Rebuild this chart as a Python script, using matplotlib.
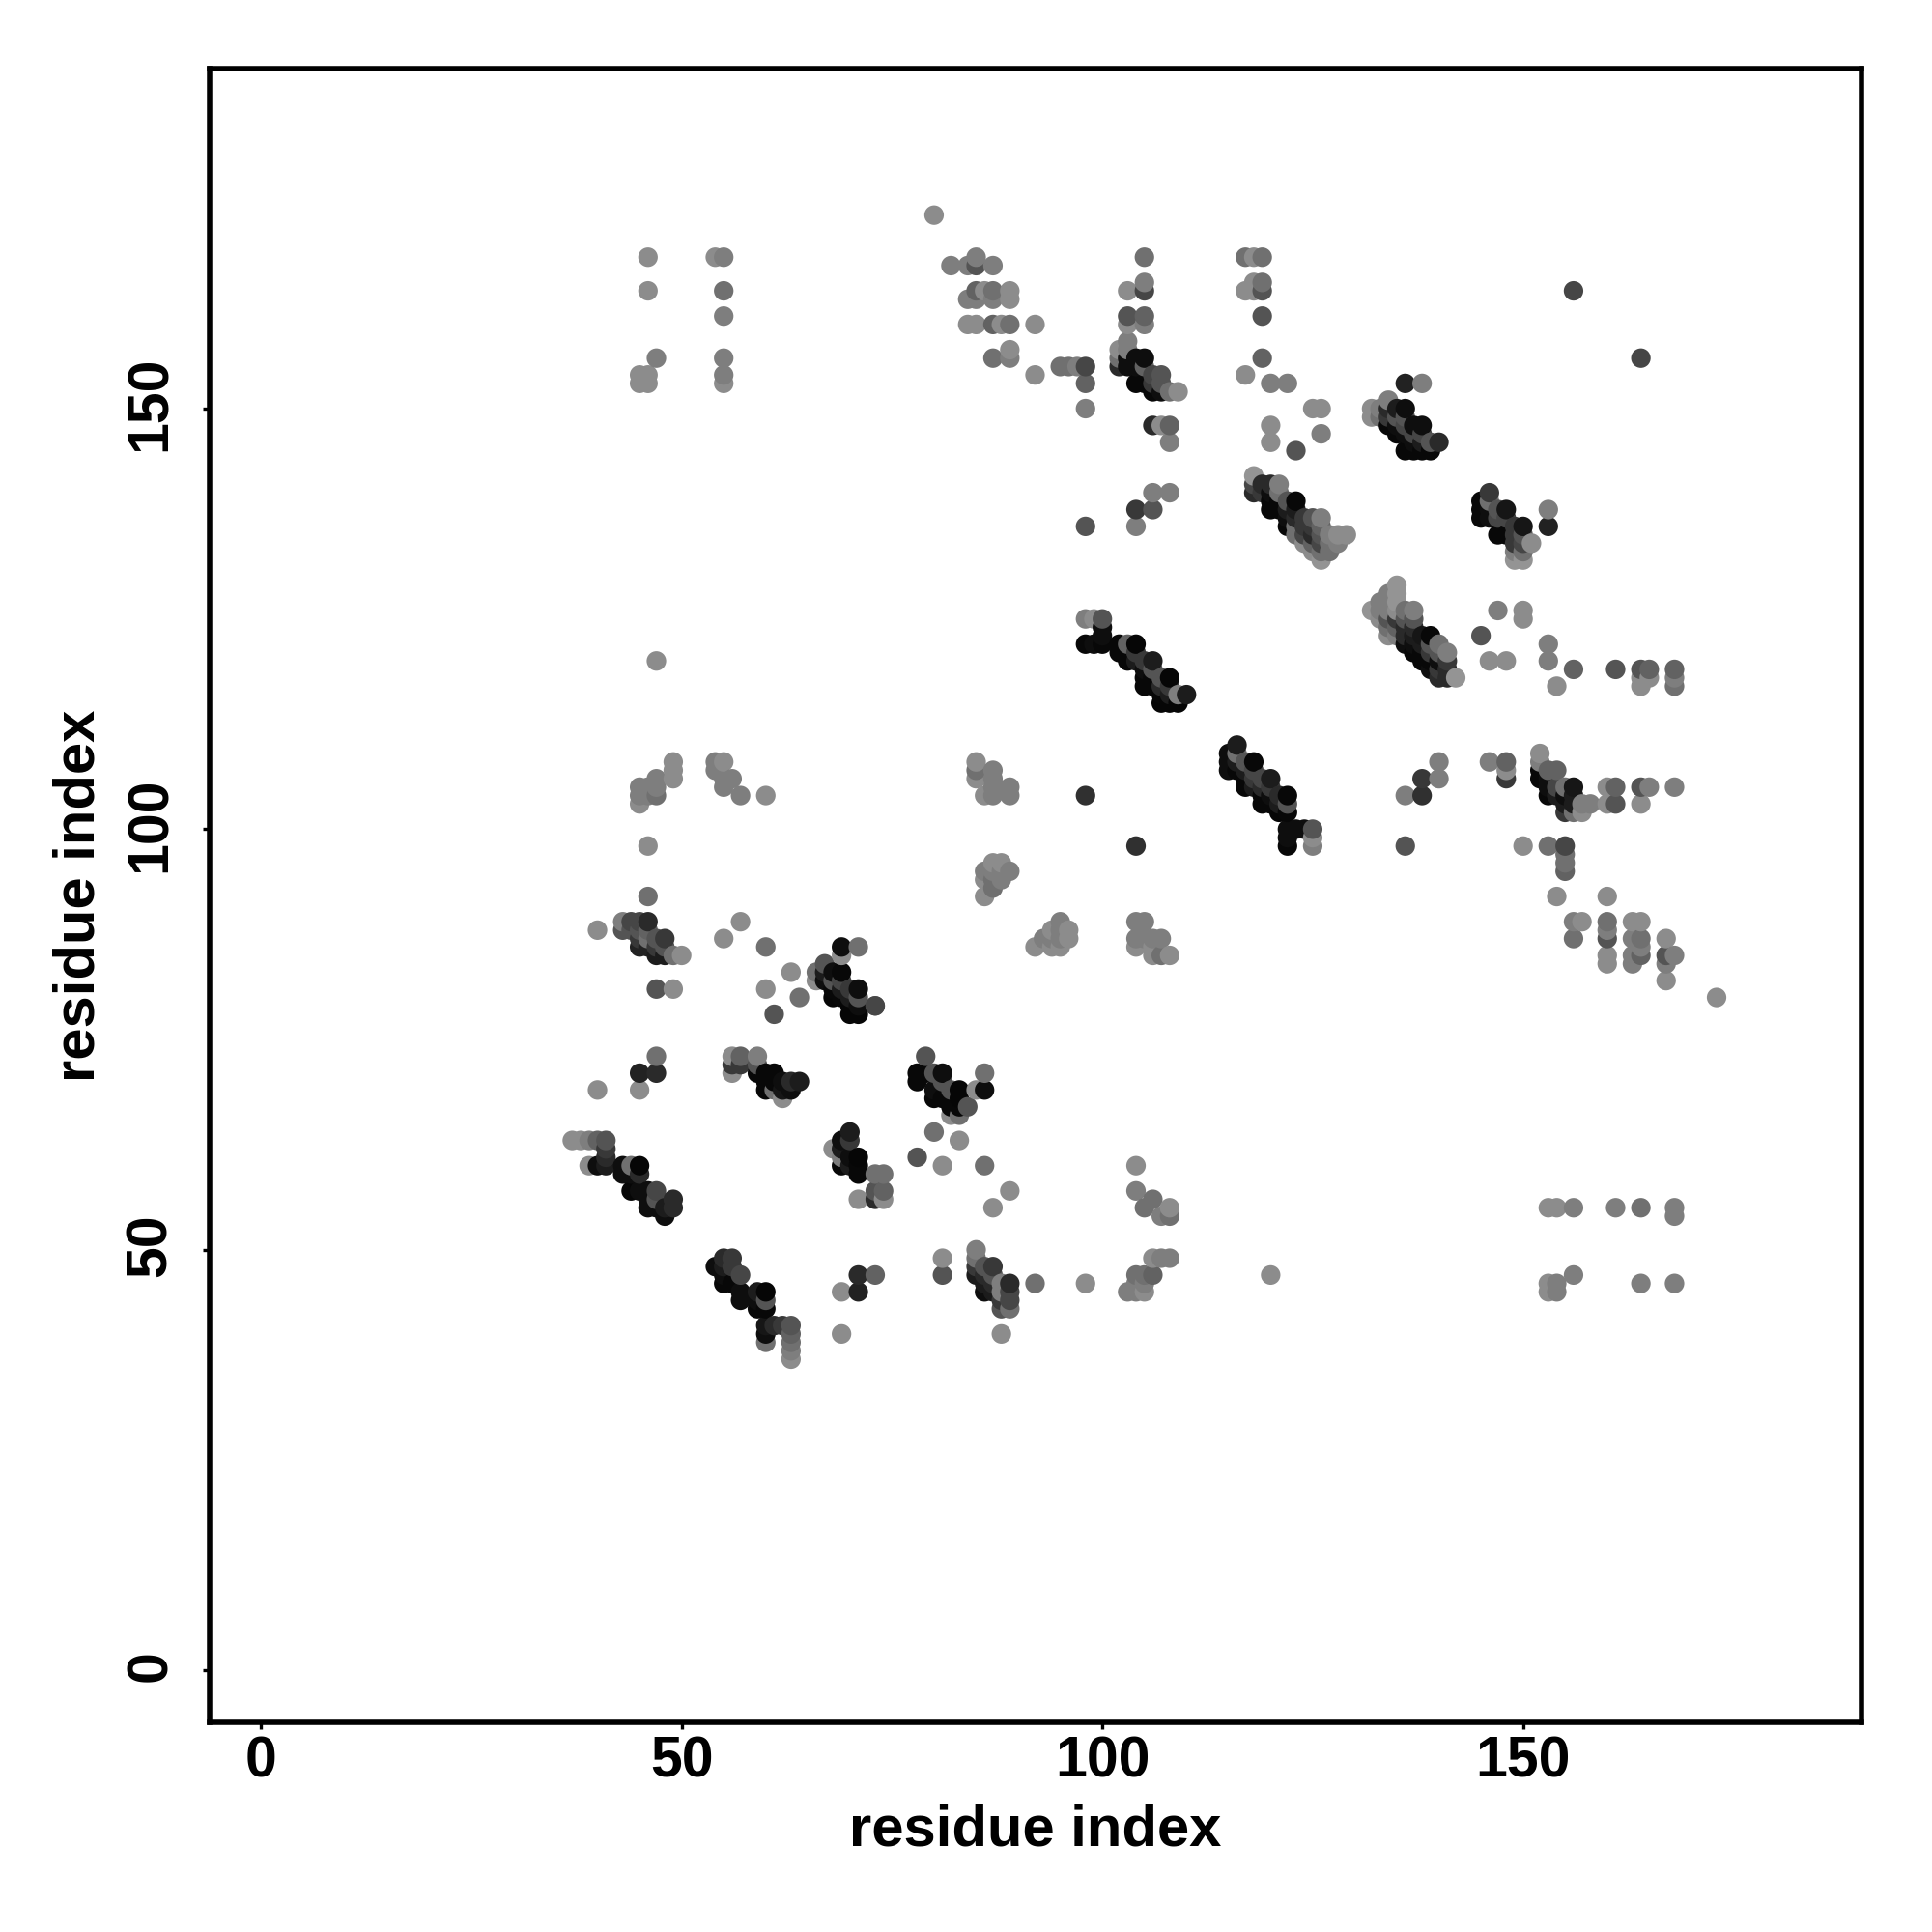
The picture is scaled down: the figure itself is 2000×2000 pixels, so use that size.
import matplotlib
matplotlib.use("Agg")
import matplotlib.pyplot as plt
from matplotlib.transforms import ScaledTranslation

# contact map, (i, j, gray level)
far_left = [(46,168,.5),(46,164,.5),(47,156,.45),(45,154,.5),(46,154,.5),(45,153,.5),(46,153,.5),
	(54,168,.5),(55,168,.45),(55,164,.4),(55,161,.45),(55,156,.45),(55,154,.45),(55,153,.5),(47,120,.5)]
helix_a = [(37,63,.5),(38,63,.5),(39,63,.45),(40,63,.35),(41,63,.3),(41,62,.2),(41,61,.15),(39,60,.5),(40,60,.05),(41,60,.1),
	(43,60,.05),(44,60,.4),(45,60,.02),(43,59,.05),(44,59,.05),(45,59,.15),(44,57,.02),(45,57,.05),(46,57,.05),(47,57,.25),
	(46,56,.05),(47,56,.3),(46,55,.05),(47,55,.05),(48,55,.1),(49,56,.15),(49,55,.15),(48,54,.05)]
helix_b = [(54,48,.05),(55,49,.15),(56,49,.2),(55,48,.1),(56,48,.2),(55,47,.05),(57,47,.25),(55,46,.03),(56,46,.03),(57,45,.05),
	(57,44,.05),(59,45,.1),(60,45,.02),(59,44,.05),(60,44,.3),(59,43,.03),(60,43,.03),(60,41,.08),(61,41,.15),(62,41,.2),
	(63,41,.3),(60,40,.05),(60,39,.4),(63,40,.35),(63,39,.4),(63,38,.45),(63,37,.5)]
low_scatter = [(69,45,.5),(71,47,.15),(73,47,.35),(71,45,.12),(69,40,.5),(81,49,.5),(81,47,.3),(40,69,.5),(45,71,.12),(47,71,.15),
	(47,73,.4),(45,69,.5),(80,64,.4),(83,63,.5),(78,61,.3),(81,60,.5),(86,60,.4),(89,57,.5),(87,55,.5),(73,79,.3),
	(46,92,.4),(40,88,.5),(47,81,.3),(49,81,.5),(57,89,.5),(55,87,.5),(60,86,.4),(63,83,.5),(60,81,.5),(64,80,.4),(61,78,.3)]
helix_c = [(70,64,.1),(69,63,.05),(70,63,.2),(68,62,.5),(69,62,.1),(69,61,.45),(70,61,.05),(71,61,.02),(69,60,.03),(70,60,.1),
	(71,60,.03),(71,59,.03),(73,59,.4),(74,59,.4),(73,57,.3),(74,57,.35),(73,56,.15),(74,56,.5),(71,56,.5)]
helix_d = [(43,89,.45),(43,88,.3),(44,89,.25),(45,89,.25),(46,89,.15),(44,88,.3),(45,88,.3),(46,88,.35),(45,87,.2),(46,87,.4),
	(47,87,.3),(48,87,.2),(45,86,.12),(46,86,.12),(47,86,.2),(48,86,.3),(47,85,.1),(48,85,.1),(49,85,.4),(50,85,.5)]
helix_e = [(69,86,.05),(71,86,.4),(69,85,.5),(67,84,.3),(66,83,.4),(66,82,.5),(67,83,.1),(68,83,.05),(69,83,.03),(67,82,.05),
	(68,82,.3),(69,82,.25),(68,81,.03),(69,81,.1),(70,81,.2),(71,81,.05),(68,80,.02),(69,80,.03),(70,80,.1),(71,80,.3),
	(70,79,.02),(71,79,.05),(73,79,.25),(70,78,.02),(71,78,.02)]
helix_g = [(56,73,.5),(57,73,.35),(59,73,.45),(56,72,.2),(57,72,.2),(59,72,.3),(56,71,.5),(59,71,.03),(60,71,.03),(61,71,.03),
	(60,70,.03),(61,70,.03),(62,70,.05),(63,70,.15),(64,70,.1),(60,69,.03),(61,69,.4),(62,69,.08),(63,69,.05),(62,68,.5)]
helix_h = [(79,73,.3),(78,71,.03),(79,71,.03),(80,71,.3),(81,71,.05),(78,70,.03),(81,70,.3),(80,69,.05),(82,69,.3),(83,69,.02),
	(80,68,.03),(81,68,.03),(82,68,.03),(83,68,.02),(82,67,.03),(83,67,.03),(84,67,.3),(82,66,.5),(83,66,.4),(85,69,.5),
	(86,69,.05),(86,71,.4)]
helix_i = [(85,50,.45),(85,49,.4),(85,48,.2),(86,48,.3),(87,48,.2),(85,47,.1),(86,47,.15),(87,47,.3),(86,46,.1),(87,46,.15),
	(88,46,.45),(89,46,.15),(86,45,.05),(87,45,.1),(88,45,.45),(89,45,.25),(88,44,.2),(89,44,.25),(88,43,.3),(89,43,.4),
	(92,46,.4),(98,46,.5),(88,40,.5)]
patch_j = [(103,45,.45),(104,47,.4),(105,47,.4),(106,47,.35),(104,46,.45),(105,46,.45),(104,45,.45),(105,45,.5),(106,49,.5),
	(107,49,.45),(108,49,.45),(104,60,.5),(104,57,.45),(106,56,.4),(105,55,.4),(107,54,.45),(108,55,.5),(108,54,.4),(120,47,.5)]
low_right = [(153,55,.5),(154,55,.5),(156,55,.45),(161,55,.45),(164,55,.4),(168,55,.45),(168,54,.45),(153,46,.5),(153,45,.5),
	(154,46,.45),(154,45,.45),(156,47,.45),(164,46,.45),(168,46,.45)]
top_left = [(80,173,.5),(82,167,.45),(84,167,.45),(85,168,.45),(85,167,.3),(87,167,.45),(85,164,.35),(86,164,.5),(87,164,.4),
	(89,164,.5),(84,163,.45),(85,163,.45),(87,163,.45),(89,163,.5),(84,160,.5),(85,160,.5),(87,160,.35),(88,160,.5),(89,160,.4),
	(92,160,.5),(89,157,.5),(87,156,.4),(89,156,.45),(92,154,.5),(95,155,.4),(96,155,.4),(97,155,.45),(98,155,.25),(98,153,.35),(98,150,.45)]
top_mid = [(105,168,.4),(105,165,.45),(105,164,.25),(103,164,.5),(103,161,.3),(103,160,.5),(105,161,.35),(105,160,.45),(103,158,.45),
	(102,157,.5),(103,157,.45),(102,156,.4),(102,155,.15),(103,156,.05),(104,156,.05),(105,156,.05),(103,155,.05),(104,155,.05),
	(105,155,.35),(106,154,.25),(107,154,.3),(104,153,.03),(105,153,.03),(106,153,.2),(107,153,.3),(106,152,.03),(107,152,.05),
	(108,152,.4),(109,152,.5),(106,148,.15),(107,148,.5),(108,148,.35),(108,146,.45)]
top_right = [(117,168,.4),(118,168,.5),(119,168,.4),(117,164,.5),(118,165,.5),(118,164,.5),(119,165,.4),(119,164,.3),(119,161,.3),
	(119,156,.35),(117,154,.5),(120,153,.45),(122,153,.45),(125,150,.5),(126,150,.5),(126,147,.45),(120,148,.5),(120,146,.5),(123,145,.3),
	(156,164,.25),(164,156,.25)]
helix_k = [(136,153,.12),(138,153,.45),(132,150,.5),(132,149,.5),(133,150,.45),(133,149,.4),(134,151,.45),(134,150,.15),(134,149,.2),
	(135,150,.1),(136,150,.05),(135,149,.3),(136,149,.3),(134,148,.03),(135,148,.05),(136,148,.25),(137,148,.05),(138,148,.05),
	(135,147,.03),(136,147,.05),(137,147,.25),(138,147,.25),(137,146,.05),(138,146,.1),(139,146,.3),(140,146,.15),
	(136,145,.03),(137,145,.03),(138,145,.03),(139,145,.03)]
helix_l = [(118,142,.55),(118,141,.25),(118,140,.15),(119,141,.15),(120,141,.15),(121,141,.45),(119,140,.2),(120,140,.05),(121,140,.4),
	(120,139,.03),(121,139,.03),(122,139,.3),(123,139,.03),(120,138,.03),(121,138,.03),(122,138,.1),(123,138,.1),
	(122,137,.05),(123,137,.15),(124,137,.2),(125,137,.3),(126,137,.45),(122,136,.03),(123,136,.4),(124,136,.2),(125,136,.2),(126,136,.35),
	(123,135,.4),(124,135,.25),(125,135,.15),(126,135,.3),(127,135,.45),(128,135,.5),(129,135,.5),
	(124,134,.5),(125,134,.35),(126,134,.25),(127,134,.4),(128,134,.45),(125,133,.5),(126,133,.4),(127,133,.4),(126,132,.55)]
helix_m = [(146,140,.2),(145,139,.03),(146,139,.4),(145,138,.03),(146,138,.05),(147,138,.3),(148,138,.08),(145,137,.03),(146,137,.05),
	(147,137,.25),(148,137,.25),(149,136,.2),(150,136,.08),(147,135,.03),(148,135,.03),(149,135,.2),(150,135,.3),(149,134,.2),(150,134,.25),
	(151,134,.5),(149,133,.45),(150,133,.4),(149,132,.55),(150,132,.55),(153,138,.45),(153,136,.12),
	(98,136,.3),(104,138,.2),(104,136,.45),(106,138,.3),(106,140,.45),(108,140,.45)]
helix_n = [(135,129,.55),(135,128,.55),(134,128,.45),(133,127,.45),(134,127,.45),(135,127,.55),(132,126,.55),(133,126,.45),(134,126,.45),
	(135,126,.5),(136,126,.4),(137,126,.45),(133,125,.5),(134,125,.3),(135,125,.2),(136,125,.3),(137,125,.3),(134,124,.4),(135,124,.35),
	(136,124,.15),(137,124,.15),(134,123,.5),(135,123,.45),(136,123,.15),(137,123,.1),(138,123,.08),(139,123,.03),
	(136,122,.05),(137,122,.05),(138,122,.1),(139,122,.3),(140,122,.4),(137,121,.03),(138,121,.03),(139,121,.2),(140,121,.3),(141,121,.45),
	(138,120,.03),(139,120,.03),(140,120,.05),(141,120,.2),(139,119,.05),(140,119,.2),(141,119,.15),(140,118,.15),(141,118,.15),(142,118,.55)]
mid_right = [(147,126,.45),(150,126,.5),(150,125,.5),(145,123,.3),(146,120,.5),(148,120,.5),(153,122,.45),(153,120,.45),(156,119,.35),
	(154,117,.5),(161,119,.3),(164,119,.3),(165,119,.35),(164,118,.5),(165,118,.5),(164,117,.5),(168,119,.35),(168,118,.45),(168,117,.4)]
helix_o = [(152,109,.5),(152,108,.45),(152,107,.03),(153,107,.35),(154,107,.35),(152,106,.03),(153,106,.05),(153,105,.05),(154,105,.25),
	(155,105,.4),(156,105,.08),(153,104,.03),(154,104,.1),(155,104,.05),(156,104,.1),(155,103,.1),(156,103,.1),(157,103,.45),(158,103,.45),
	(155,102,.2),(156,102,.4),(157,102,.5),(160,105,.5),(161,105,.35),(164,105,.3),(165,105,.45),(168,105,.45),
	(160,103,.5),(161,103,.3),(164,103,.5)]
mid_scatter = [(140,108,.45),(138,106,.2),(140,106,.45),(136,104,.45),(138,104,.17),(146,108,.45),(148,108,.35),(148,107,.5),(148,106,.2),
	(136,98,.3),(150,98,.5),(153,98,.4),(155,98,.25),(155,97,.4),(155,96,.4),(155,95,.35),(154,92,.5),(160,92,.5)]
lower_right = [(156,89,.45),(157,89,.5),(160,89,.4),(163,89,.5),(164,89,.5),(160,88,.45),(156,87,.4),(160,87,.3),(163,87,.45),(164,87,.4),
	(167,87,.5),(164,86,.45),(160,85,.5),(163,85,.45),(164,85,.35),(167,85,.3),(168,85,.45),(160,84,.5),(163,84,.45),(167,84,.45),
	(167,82,.5),(173,80,.5)]
helix_t = [(98,125,.45),(99,125,.5),(100,125,.3),(100,124,.05),(100,123,.05),(98,122,.03),(99,122,.05),(100,122,.03),
	(102,122,.03),(103,122,.35),(104,122,.02),(102,121,.03),(103,121,.03),(104,121,.2),(103,120,.03),(104,120,.1),(105,120,.2),(106,120,.1),
	(105,119,.05),(106,119,.3),(105,118,.03),(106,118,.03),(107,118,.3),(108,118,.02),(105,117,.03),(106,117,.03),(107,117,.15),(108,117,.2),
	(107,116,.03),(108,116,.1),(109,116,.45),(110,116,.1),(107,115,.02),(108,115,.02),(109,115,.02)]
helix_p = [(116,110,.1),(115,109,.05),(116,109,.4),(115,108,.05),(116,108,.1),(117,108,.3),(118,108,.03),(115,107,.05),(116,107,.03),
	(117,107,.1),(118,107,.25),(117,106,.03),(118,106,.2),(119,106,.25),(120,106,.1),(117,105,.03),(118,105,.1),(119,105,.15),(120,105,.2),
	(119,104,.03),(120,104,.05),(121,104,.15),(122,104,.03),(119,103,.03),(120,103,.03),(121,103,.1),(122,103,.3),(121,102,.02),(122,102,.03),
	(122,100,.05),(123,100,.05),(124,100,.05),(125,100,.3),(122,99,.05),(125,99,.5),(122,98,.03),(125,98,.45),(98,104,.17),(104,98,.17)]
patch_left = [(49,108,.5),(49,107,.5),(49,106,.5),(47,106,.45),(47,105,.45),(47,104,.4),(45,105,.45),(45,104,.45),(45,103,.5),(46,105,.45),
	(46,104,.45),(46,98,.5),(54,108,.45),(55,108,.5),(54,107,.45),(55,106,.45),(56,106,.45),(55,105,.45),(57,104,.45),(60,104,.5)]
patch_q = [(85,108,.5),(85,107,.4),(85,106,.5),(87,107,.45),(87,106,.45),(87,105,.45),(87,104,.45),(86,104,.5),(89,105,.45),(89,104,.45),
	(86,92,.5),(87,93,.4),(86,94,.5),(86,95,.45),(87,96,.5),(88,96,.5),(87,95,.45),(88,95,.45),(89,95,.45),(88,94,.45),(87,94,.4)]
patch_s = [(92,86,.5),(93,87,.45),(94,86,.5),(95,86,.5),(94,88,.5),(95,89,.45),(95,88,.45),(95,87,.45),(96,88,.5),(96,87,.5),(94,87,.45),
	(104,89,.45),(105,89,.45),(104,87,.45),(104,86,.5),(105,87,.45),(106,87,.45),(107,87,.45),(106,85,.5),(107,85,.4),(108,85,.5),(106,86,.5)]

groups = [far_left,helix_a,helix_b,low_scatter,helix_c,helix_d,helix_e,helix_g,helix_h,helix_i,patch_j,low_right,top_left,top_mid,
	top_right,helix_k,helix_l,helix_m,helix_n,mid_right,helix_o,mid_scatter,lower_right,helix_t,helix_p,patch_left,patch_q,patch_s]
tick_vals = [0,50,100,150]


def main():
	plt.rcParams['font.family'] = ['Liberation Sans','DejaVu Sans']
	plt.rcParams['font.weight'] = 'bold'

	pts = []
	for g in groups:
		pts.extend(g)
	# later points sit on top in the original, i then j
	pts.sort(key=lambda p:(p[0],p[1]))
	xs = [p[0] for p in pts]
	ys = [p[1] for p in pts]
	cols = [str(round(min(p[2]*1.1,0.58),3)) for p in pts]

	fig = plt.figure(figsize=(20,20),dpi=100)
	ax = fig.add_axes([217/2000.0,1-1783/2000.0,1710/2000.0,1712/2000.0])
	ax.scatter(xs,ys,s=212,c=cols,linewidths=0,zorder=3)
	ax.set_xlim(-6.1,190.22)
	ax.set_ylim(-6.18,190.42)

	for s in ax.spines.values():
		s.set_linewidth(4)
	ax.set_xticks(tick_vals)
	ax.set_yticks(tick_vals)
	ax.tick_params(axis='both',length=5,width=2.4,labelsize=42.5)
	ax.tick_params(axis='x',pad=4.5)
	ax.tick_params(axis='y',pad=19)
	# rotated labels sit a little low otherwise
	nudge = ScaledTranslation(0,3.5/72.0,fig.dpi_scale_trans)
	for t in ax.get_yticklabels():
		t.set_rotation(90)
		t.set_va('center')
		t.set_transform(t.get_transform()+nudge)

	ax.set_xlabel('residue index',fontsize=43,fontweight='bold')
	ax.set_ylabel('residue index',fontsize=43,fontweight='bold')
	ax.xaxis.set_label_coords(0.5,-0.0495)
	ax.yaxis.set_label_coords(-0.063,0.5)
	fig.savefig('out.png',dpi=100)


if __name__ == "__main__":
	main()
